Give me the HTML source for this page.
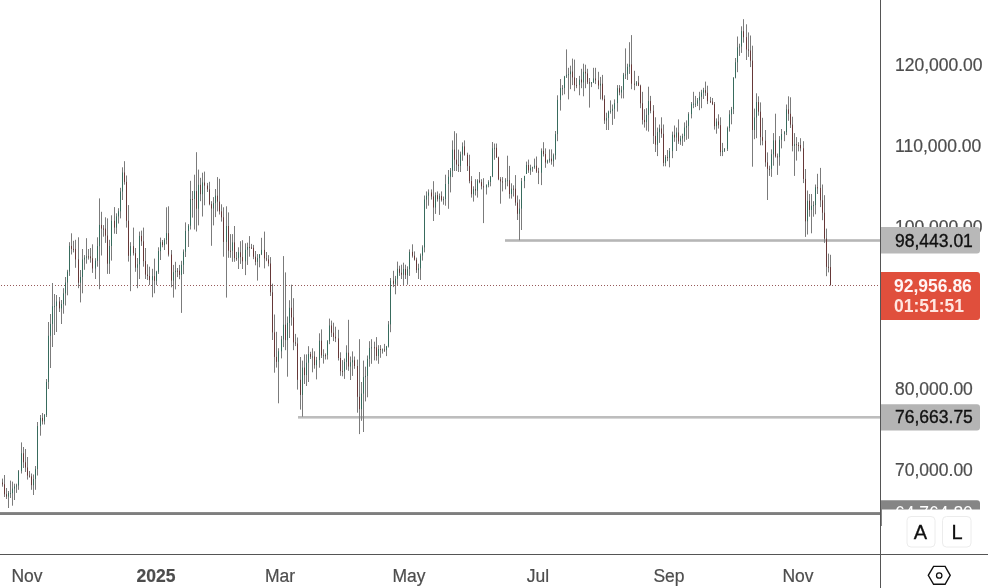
<!DOCTYPE html>
<html><head><meta charset="utf-8"><style>
html,body{margin:0;padding:0;background:#fff;width:988px;height:588px;overflow:hidden;}
svg{position:absolute;left:0;top:0;will-change:transform;}
.t{font-family:"Liberation Sans",sans-serif;}
</style></head><body>
<svg width="988" height="588" viewBox="0 0 988 588">
<rect width="988" height="588" fill="#fff"/>
<!-- horizontal drawn lines -->
<rect x="505" y="239.2" width="376" height="2.6" fill="#b6b6b6"/>
<rect x="298" y="416" width="583" height="2.6" fill="#bdbdbd"/>
<rect x="0" y="512.1" width="881" height="2.9" fill="#7e7e7e"/>
<!-- last price dotted line -->
<line x1="1" y1="285.5" x2="880" y2="285.5" stroke="#965a5a" stroke-width="1" stroke-dasharray="1 2"/>
<!-- candles -->
<g><path d="M2.5 478.6V486.7M4.5 475.0V497.0M6.5 488.0V499.0M8.5 491.0V508.0M10.5 480.6V498.0M12.5 481.6V505.7M14.5 483.7V500.0M16.5 483.7V492.9M18.5 470.0V489.8M21.5 442.4V473.5M23.5 447.0V468.0M25.5 449.0V472.0M27.5 457.0V479.6M29.5 471.0V477.6M31.5 473.5V489.8M33.5 474.5V495.0M35.5 466.0V489.8M37.5 422.0V475.5M40.5 415.0V435.7M42.5 413.0V424.5M44.5 414.0V424.5M46.5 379.0V417.0M48.5 322.0V389.0M50.5 314.0V368.0M52.5 283.0V347.0M54.5 294.0V335.0M56.5 295.0V332.0M59.5 297.0V312.0M61.5 300.0V324.0M63.5 288.2V313.7M65.5 277.0V305.5M67.5 269.8V295.3M69.5 242.2V275.9M71.5 233.3V254.5M73.5 240.8V252.4M75.5 239.8V267.8M78.5 237.3V288.2M80.5 270.0V302.4M82.5 249.0V293.3M84.5 255.1V269.8M86.5 238.2V263.7M88.5 249.0V259.6M90.5 248.0V262.7M92.5 244.3V272.9M95.5 258.2V279.0M97.5 237.3V266.7M99.5 198.4V289.2M101.5 211.8V255.5M103.5 225.1V236.7M105.5 217.3V242.9M107.5 218.4V273.9M109.5 239.8V273.9M111.5 215.3V260.6M114.5 207.1V233.7M116.5 213.3V234.0M118.5 208.2V223.5M120.5 187.8V218.4M122.5 167.3V200.0M124.5 161.2V184.7M126.5 175.5V227.6M128.5 205.1V261.6M130.5 242.2V291.2M133.5 227.6V255.5M135.5 248.0V271.8M137.5 258.0V288.2M139.5 231.6V279.0M141.5 230.6V245.9M143.5 227.6V266.7M145.5 248.0V279.0M147.5 264.3V280.0M149.5 266.7V285.1M152.5 268.8V297.3M154.5 258.6V293.3M156.5 270.8V285.1M158.5 247.3V273.9M160.5 237.6V260.0M162.5 240.0V247.3M164.5 238.2V250.0M166.5 207.3V244.3M168.5 206.3V256.5M171.5 250.0V287.3M173.5 264.9V297.6M175.5 261.8V289.4M177.5 268.0V277.1M179.5 264.9V279.2M181.5 260.8V312.9M183.5 249.4V274.1M185.5 222.4V257.0M188.5 224.1V247.0M190.5 180.8V229.5M192.5 191.0V217.6M194.5 174.7V229.5M196.5 152.2V231.5M198.5 169.6V225.4M200.5 177.8V201.2M202.5 172.7V216.5M204.5 171.6V205.3M207.5 182.9V192.0M209.5 181.8V205.3M211.5 201.2V245.8M213.5 197.1V225.4M215.5 189.0V217.1M217.5 177.1V211.4M219.5 178.8V214.5M221.5 204.3V221.6M223.5 207.3V256.7M226.5 206.3V297.6M228.5 212.4V257.8M230.5 234.1V257.8M232.5 234.1V261.8M234.5 226.0V261.8M236.5 251.9V260.8M238.5 247.3V269.0M240.5 241.2V263.9M242.5 240.2V269.0M245.5 243.3V275.1M247.5 242.7V264.9M249.5 236.1V256.7M251.5 243.9V249.0M253.5 244.9V259.2M255.5 251.0V265.3M257.5 254.1V280.6M259.5 254.1V267.3M261.5 237.8V255.1M264.5 231.6V268.4M266.5 252.0V261.2M268.5 255.1V266.3M270.5 257.1V296.0M272.5 283.7V340.0M274.5 314.5V372.7M276.5 331.8V367.6M278.5 348.2V403.3M281.5 335.9V358.4M283.5 256.1V347.1M285.5 272.4V350.2M287.5 316.5V376.7M289.5 300.2V338.0M291.5 284.7V325.7M293.5 298.2V350.2M295.5 333.9V346.1M297.5 337.5V389.6M300.5 357.0V409.6M302.5 360.6V416.7M304.5 354.4V384.0M306.5 354.4V386.0M308.5 346.2V382.0M310.5 351.8V359.0M312.5 348.3V372.3M314.5 351.3V368.7M316.5 356.9V379.4M319.5 333.3V367.7M321.5 329.4V358.0M323.5 349.3V363.6M325.5 353.4V359.5M327.5 340.1V359.5M329.5 318.6V344.2M331.5 320.6V337.0M333.5 322.7V341.1M335.5 326.7V342.1M338.5 329.8V360.5M340.5 352.3V375.8M342.5 360.1V376.3M344.5 358.5V378.9M346.5 345.3V369.8M348.5 319.8V370.8M350.5 356.5V380.0M352.5 351.4V375.9M354.5 356.5V368.8M357.5 359.6V412.7M359.5 339.2V434.1M361.5 382.0V420.8M363.5 360.6V432.0M365.5 366.7V401.4M367.5 355.5V397.3M369.5 341.2V366.7M371.5 339.2V363.8M374.5 341.7V360.4M376.5 337.1V360.6M378.5 345.2V363.8M380.5 345.1V357.8M382.5 348.5V353.6M384.5 343.9V351.9M386.5 345.9V356.1M388.5 321.0V347.5M390.5 278.0V332.2M393.5 270.8V287.1M395.5 275.9V294.3M397.5 261.6V285.1M399.5 265.7V275.9M401.5 264.7V279.0M403.5 262.7V285.1M405.5 264.7V279.0M407.5 266.3V284.7M409.5 249.4V275.9M412.5 244.3V257.6M414.5 251.4V260.6M416.5 257.6V272.9M418.5 263.7V279.0M420.5 253.5V280.0M422.5 245.3V260.6M424.5 195.5V252.4M426.5 191.4V208.8M428.5 189.4V205.7M431.5 189.4V199.6M433.5 181.2V221.0M435.5 192.4V213.9M437.5 191.4V201.6M439.5 193.5V214.9M441.5 191.4V201.6M443.5 196.5V204.7M445.5 174.7V205.7M448.5 170.0V208.8M450.5 168.0V192.4M452.5 140.4V177.1M454.5 131.2V171.0M456.5 133.3V171.0M458.5 149.6V172.0M460.5 151.6V172.0M462.5 142.4V160.8M464.5 140.4V155.7M467.5 152.7V171.0M469.5 154.7V183.3M471.5 176.1V197.6M473.5 186.3V201.6M475.5 179.2V195.5M477.5 179.2V197.6M479.5 172.0V183.3M481.5 179.2V189.4M483.5 178.2V223.1M486.5 184.3V194.5M488.5 180.2V187.3M490.5 176.1V186.3M492.5 142.0V177.1M494.5 143.5V159.8M496.5 143.5V157.8M498.5 156.7V180.2M500.5 177.1V203.7M502.5 177.1V191.4M505.5 178.2V189.4M507.5 155.7V186.3M509.5 165.9V198.6M511.5 183.3V198.6M513.5 185.3V196.5M515.5 175.1V205.7M517.5 195.5V220.0M519.5 199.4V240.2M521.5 178.0V230.0M524.5 175.9V188.2M526.5 161.6V173.9M528.5 159.6V172.9M530.5 164.7V174.9M532.5 166.7V171.8M534.5 158.6V168.8M536.5 156.5V172.9M538.5 167.8V184.1M541.5 148.4V185.1M543.5 142.2V156.5M545.5 148.4V167.8M547.5 159.6V163.7M549.5 149.4V162.7M551.5 149.4V164.7M553.5 153.5V166.7M555.5 131.0V159.6M557.5 95.3V141.2M560.5 79.0V110.6M562.5 85.1V95.3M564.5 75.9V94.3M566.5 49.4V78.0M568.5 67.8V99.4M570.5 65.7V89.2M572.5 58.6V85.1M574.5 59.6V91.2M576.5 78.0V88.2M579.5 75.9V95.3M581.5 68.8V88.2M583.5 63.7V96.3M585.5 64.7V88.2M587.5 68.8V84.1M589.5 78.0V107.6M591.5 82.0V87.1M593.5 67.8V83.1M595.5 67.8V84.1M598.5 71.8V89.2M600.5 76.9V99.4M602.5 74.9V100.4M604.5 95.3V123.9M606.5 112.7V130.0M608.5 110.6V130.0M610.5 100.4V113.7M612.5 104.5V124.9M614.5 99.4V118.8M617.5 85.1V111.6M619.5 85.1V95.3M621.5 86.1V98.4M623.5 72.9V98.4M625.5 48.4V79.0M627.5 63.7V80.0M629.5 42.2V73.9M631.5 35.1V89.2M634.5 70.8V90.2M636.5 81.0V86.1M638.5 75.9V86.1M640.5 84.7V108.2M642.5 91.8V124.5M644.5 109.2V127.6M646.5 108.2V130.6M648.5 86.7V131.6M650.5 95.9V113.3M653.5 105.1V143.9M655.5 117.3V152.0M657.5 127.6V156.1M659.5 124.5V142.9M661.5 117.3V137.8M663.5 124.5V166.3M665.5 155.1V166.3M667.5 150.0V161.2M669.5 148.0V167.3M672.5 131.6V158.2M674.5 125.5V141.8M676.5 127.6V151.0M678.5 119.4V143.9M680.5 135.7V144.9M682.5 133.7V145.9M684.5 122.4V141.8M686.5 120.4V139.8M688.5 112.2V138.8M691.5 102.0V118.4M693.5 91.8V108.2M695.5 95.9V107.1M697.5 98.0V106.1M699.5 91.8V110.2M701.5 89.8V108.2M703.5 87.8V99.0M705.5 81.6V95.9M707.5 85.7V104.1M710.5 96.9V103.1M712.5 98.0V105.1M714.5 102.0V129.6M716.5 118.4V133.7M718.5 114.3V128.6M720.5 117.3V156.1M722.5 142.9V156.1M724.5 148.0V152.0M727.5 126.5V151.0M729.5 110.2V131.6M731.5 106.9V124.3M733.5 77.3V114.1M735.5 58.0V78.4M737.5 36.5V72.2M739.5 43.7V55.9M741.5 26.3V52.9M743.5 19.2V42.7M746.5 24.3V60.0M748.5 32.4V56.9M750.5 35.5V67.1M752.5 45.7V166.7M754.5 108.6V139.2M756.5 93.3V138.2M758.5 96.3V115.7M760.5 102.4V145.3M762.5 117.8V145.3M765.5 130.0V166.7M767.5 152.4V200.0M769.5 165.7V175.9M771.5 149.4V176.9M773.5 133.1V165.7M775.5 113.7V157.6M777.5 153.5V174.9M779.5 136.1V165.7M781.5 129.0V148.4M784.5 131.0V141.2M786.5 104.5V135.1M788.5 96.3V120.8M790.5 97.3V128.0M792.5 116.7V151.4M794.5 133.1V175.9M796.5 137.1V160.6M798.5 142.2V151.4M800.5 138.2V151.4M803.5 141.2V183.1M805.5 169.0V236.9M807.5 190.5V234.5M809.5 194.0V216.7M811.5 194.0V233.3M813.5 201.2V216.7M815.5 184.5V214.3M817.5 173.8V194.0M820.5 167.9V207.1M822.5 184.5V220.2M824.5 195.2V242.9M826.5 228.6V276.2M828.5 253.6V272.4M830.5 254.8V285.3" stroke="#7b7b7b" stroke-width="1" fill="none"/><path d="M8.5 493.1V496.6M10.5 493.1V494.1M12.5 488.6V493.1M14.5 486.5V488.6M16.5 485.5V486.5M18.5 471.1V485.5M21.5 453.3V471.1M33.5 479.1V485.2M35.5 468.9V479.1M37.5 426.1V468.9M40.5 417.9V426.1M44.5 414.9V421.4M46.5 382.0V414.9M48.5 335.8V382.0M50.5 323.9V335.8M52.5 306.3V323.9M54.5 306.1V307.1M56.5 301.5V306.1M61.5 304.1V308.4M63.5 293.4V304.1M65.5 282.5V293.4M67.5 271.6V282.5M69.5 245.9V271.6M80.5 277.0V282.7M82.5 259.5V277.0M84.5 257.7V259.5M86.5 256.4V257.7M95.5 260.8V268.5M97.5 246.1V260.8M99.5 224.9V246.1M109.5 246.0V263.7M111.5 220.8V246.0M116.5 216.4V227.6M118.5 211.3V216.4M120.5 191.5V211.3M122.5 172.5V191.5M130.5 246.2V255.8M137.5 264.3V267.7M139.5 235.9V264.3M152.5 276.2V280.2M156.5 271.7V280.8M158.5 251.1V271.7M160.5 242.2V251.1M164.5 240.0V245.1M166.5 233.2V240.0M173.5 272.2V280.6M175.5 270.7V272.2M181.5 264.8V274.9M183.5 251.7V264.8M185.5 231.0V251.7M188.5 225.7V231.0M190.5 199.0V225.7M194.5 191.1V199.0M198.5 184.8V208.7M202.5 182.5V194.2M213.5 203.1V208.5M215.5 195.7V203.1M226.5 226.0V241.9M232.5 242.4V250.7M238.5 252.3V258.1M245.5 249.8V261.3M247.5 246.9V249.8M257.5 258.1V261.9M259.5 254.4V258.1M261.5 249.9V254.4M278.5 351.3V361.8M281.5 339.3V351.3M283.5 324.7V339.3M287.5 322.9V340.1M289.5 307.8V322.9M302.5 367.6V394.9M306.5 362.7V375.1M308.5 354.0V362.7M312.5 356.5V357.5M316.5 360.1V365.2M319.5 340.7V360.1M323.5 355.2V356.2M327.5 341.3V355.2M329.5 325.5V341.3M344.5 361.9V371.4M346.5 352.7V361.9M350.5 362.3V366.5M352.5 360.2V362.3M361.5 393.6V409.2M363.5 377.1V393.6M365.5 375.9V377.1M367.5 358.9V375.9M369.5 348.0V358.9M371.5 347.3V348.3M378.5 349.0V356.0M382.5 349.5V350.5M386.5 346.4V350.1M388.5 324.4V346.4M390.5 280.7V324.4M395.5 278.7V283.7M397.5 268.8V278.7M403.5 269.0V274.7M407.5 269.2V275.2M409.5 251.9V269.2M418.5 268.3V270.1M420.5 255.6V268.3M422.5 247.4V255.6M424.5 199.5V247.4M426.5 195.7V199.5M428.5 192.5V195.7M435.5 195.2V207.5M439.5 195.9V199.2M443.5 199.0V200.1M445.5 184.0V199.0M448.5 176.7V184.0M450.5 170.7V176.7M452.5 149.6V170.7M460.5 154.4V165.9M462.5 146.4V154.4M473.5 189.1V194.2M477.5 180.4V190.6M486.5 185.2V187.4M488.5 182.0V185.2M490.5 176.4V182.0M492.5 148.4V176.4M494.5 147.8V148.8M505.5 180.6V181.6M507.5 180.2V181.2M511.5 188.7V194.0M519.5 208.6V213.8M521.5 181.1V208.6M524.5 175.9V181.1M526.5 165.0V173.9M530.5 168.2V170.4M532.5 167.3V168.3M534.5 165.7V167.3M541.5 150.8V172.7M547.5 160.5V162.5M549.5 158.7V160.5M553.5 155.3V161.3M555.5 134.1V155.3M557.5 99.9V134.1M560.5 88.2V99.9M562.5 87.9V88.9M564.5 76.5V87.9M566.5 74.9V76.5M568.5 74.2V75.2M570.5 71.5V74.2M579.5 79.6V85.1M583.5 71.8V82.4M591.5 82.3V83.5M593.5 78.5V82.3M600.5 83.7V85.5M606.5 117.9V120.5M608.5 111.5V117.9M610.5 110.9V111.9M612.5 108.8V110.9M614.5 103.1V108.8M617.5 88.2V103.1M621.5 89.8V92.5M623.5 74.7V89.8M625.5 74.4V75.4M627.5 66.8V74.4M629.5 64.4V66.8M636.5 82.5V84.6M646.5 114.9V122.1M648.5 101.1V114.9M657.5 132.2V144.7M659.5 128.5V132.2M665.5 156.9V162.9M669.5 151.1V157.8M672.5 134.7V151.1M676.5 132.5V137.5M680.5 138.5V141.4M682.5 136.1V138.5M684.5 127.6V136.1M686.5 125.9V127.6M688.5 114.1V125.9M691.5 103.9V114.1M693.5 103.7V104.7M695.5 103.7V104.7M697.5 100.4V103.7M699.5 96.7V100.4M701.5 92.6V96.7M703.5 90.2V92.6M716.5 121.5V126.2M722.5 150.8V152.1M724.5 148.9V150.8M727.5 128.0V148.9M729.5 114.4V128.0M731.5 109.1V114.4M733.5 77.6V109.1M735.5 62.3V77.6M737.5 47.4V62.3M739.5 46.5V47.5M741.5 31.2V46.5M754.5 117.5V130.0M756.5 102.1V117.5M771.5 154.3V168.8M773.5 140.4V154.3M779.5 139.8V157.2M781.5 134.1V139.8M784.5 132.2V134.1M786.5 109.4V132.2M794.5 144.2V145.9M807.5 200.8V221.3M811.5 205.8V209.9M813.5 205.1V206.1M815.5 187.3V205.1" stroke="#386b5d" stroke-width="1" fill="none"/><path d="M2.5 482.6V484.3M4.5 484.3V494.3M6.5 494.3V496.6M23.5 453.3V462.3M25.5 462.3V467.5M27.5 467.5V475.6M29.5 475.6V476.6M31.5 476.4V485.2M42.5 417.9V421.4M59.5 301.5V308.4M71.5 245.9V248.9M73.5 248.9V249.9M75.5 248.9V259.4M78.5 259.4V282.7M88.5 256.4V257.4M90.5 256.4V258.3M92.5 258.3V268.5M101.5 224.9V228.6M103.5 228.6V229.6M105.5 228.6V235.6M107.5 235.6V263.7M114.5 220.8V227.6M124.5 172.5V181.9M126.5 181.9V220.8M128.5 220.8V255.8M133.5 246.2V253.2M135.5 253.2V267.7M141.5 235.9V241.3M143.5 241.3V261.1M145.5 261.1V274.6M147.5 274.6V276.0M149.5 276.0V280.2M154.5 276.2V280.8M162.5 242.2V245.1M168.5 233.2V254.6M171.5 254.6V280.6M177.5 270.7V271.7M179.5 270.7V274.9M192.5 199.0V200.0M196.5 191.1V208.7M200.5 184.8V194.2M204.5 182.5V185.6M207.5 185.6V189.3M209.5 189.3V204.1M211.5 204.1V208.5M217.5 195.7V201.6M219.5 201.6V211.4M221.5 211.4V217.3M223.5 217.3V241.9M228.5 226.0V250.7M230.5 250.7V251.7M234.5 242.4V258.1M236.5 258.1V259.1M240.5 252.3V257.1M242.5 257.1V261.3M249.5 246.9V247.9M251.5 247.5V248.5M253.5 247.8V256.7M255.5 256.7V261.9M264.5 249.9V258.4M266.5 258.4V259.4M268.5 259.4V263.5M270.5 263.5V292.3M272.5 292.3V332.4M274.5 332.4V356.9M276.5 356.9V361.8M285.5 324.7V340.1M291.5 307.8V317.4M293.5 317.4V342.4M295.5 342.4V343.5M297.5 343.5V379.8M300.5 379.8V394.9M304.5 367.6V375.1M310.5 354.0V356.8M314.5 356.5V365.2M321.5 340.7V355.4M325.5 355.2V356.2M331.5 325.5V332.7M333.5 332.7V336.8M335.5 336.8V338.4M338.5 338.4V358.0M340.5 358.0V371.1M342.5 371.1V372.1M348.5 352.7V366.5M354.5 360.2V366.0M357.5 366.0V396.8M359.5 396.8V409.2M374.5 347.3V348.3M376.5 347.3V356.0M380.5 349.0V350.0M384.5 349.5V350.5M393.5 280.7V283.7M399.5 268.8V272.8M401.5 272.8V274.7M405.5 269.0V275.2M412.5 251.9V255.7M414.5 255.7V259.7M416.5 259.7V270.1M431.5 192.5V196.5M433.5 196.5V207.5M437.5 195.2V199.2M441.5 195.9V200.1M454.5 149.6V159.7M456.5 159.7V164.6M458.5 164.6V165.9M464.5 146.4V154.8M467.5 154.8V166.1M469.5 166.1V181.1M471.5 181.1V194.2M475.5 189.1V190.6M479.5 180.4V182.1M481.5 182.1V186.3M483.5 186.3V187.4M496.5 147.8V157.5M498.5 157.5V179.3M500.5 179.3V181.4M502.5 181.4V182.4M509.5 180.2V194.0M513.5 188.7V189.7M515.5 188.7V202.6M517.5 202.6V213.8M528.5 165.0V170.4M536.5 165.7V171.4M538.5 171.4V172.7M543.5 150.8V154.1M545.5 154.1V162.5M551.5 158.7V161.3M572.5 71.5V77.4M574.5 77.4V85.1M576.5 85.1V86.1M581.5 79.6V82.4M585.5 71.8V73.4M587.5 73.4V82.3M589.5 82.3V83.5M595.5 78.5V80.4M598.5 80.4V85.5M602.5 83.7V98.9M604.5 98.9V120.5M619.5 88.2V92.5M631.5 64.4V83.7M634.5 83.7V84.7M638.5 82.5V85.7M640.5 85.7V103.3M642.5 103.3V119.9M644.5 119.9V122.1M650.5 101.1V110.8M653.5 110.8V135.9M655.5 135.9V144.7M661.5 128.5V133.8M663.5 133.8V162.9M667.5 156.9V157.9M674.5 134.7V137.5M678.5 132.5V141.4M705.5 90.2V92.8M707.5 92.8V101.2M710.5 101.2V102.2M712.5 101.6V104.2M714.5 104.2V126.2M718.5 121.5V125.2M720.5 125.2V152.1M743.5 31.2V37.2M746.5 37.2V49.5M748.5 49.5V50.5M750.5 50.5V60.7M752.5 60.7V130.0M758.5 102.1V111.7M760.5 111.7V137.1M762.5 137.1V140.7M765.5 140.7V162.4M767.5 162.4V168.8M769.5 168.8V169.8M775.5 140.4V156.4M777.5 156.4V157.4M788.5 109.4V113.8M790.5 113.8V124.6M792.5 124.6V145.9M796.5 144.2V145.2M798.5 145.0V146.0M800.5 145.0V148.3M803.5 148.3V178.9M805.5 178.9V221.3M809.5 200.8V209.9M817.5 187.3V188.3M820.5 187.9V200.3M822.5 200.3V212.7M824.5 212.7V238.6M826.5 238.6V266.8M828.5 266.8V267.8M830.5 267.1V285.3" stroke="#663838" stroke-width="1" fill="none"/></g>
<!-- axes -->
<rect x="880" y="0" width="1" height="588" fill="#555"/>
<rect x="0" y="554" width="988" height="1" fill="#555"/>
<!-- price labels -->
<g class="t" font-size="17.5" fill="#4d4d4d" stroke="#4d4d4d" stroke-width="0.2">
<text x="895" y="71">120,000.00</text>
<text x="895" y="152">110,000.00</text>
<text x="895" y="233">100,000.00</text>
<text x="895" y="395">80,000.00</text>
<text x="895" y="476">70,000.00</text>
</g>
<!-- boxes -->
<path d="M881 227H977a3 3 0 0 1 3 3V250.5a3 3 0 0 1 -3 3H881Z" fill="#b8b8b8"/>
<text class="t" x="895" y="246.5" font-size="17.5" fill="#111" stroke="#111" stroke-width="0.35">98,443.01</text>
<path d="M881 404.3H977a3 3 0 0 1 3 3V427.5a3 3 0 0 1 -3 3H881Z" fill="#b4b4b4"/>
<text class="t" x="895" y="423" font-size="17.5" fill="#111" stroke="#111" stroke-width="0.35">76,663.75</text>
<path d="M881 500.3H977a3 3 0 0 1 3 3V526H881Z" fill="#858585"/>
<text class="t" x="895" y="519" font-size="17.5" fill="#fff">64,764.80</text>
<rect x="882" y="509.5" width="106" height="44.5" fill="#fff"/>
<path d="M881 272H977a3 3 0 0 1 3 3V317a3 3 0 0 1 -3 3H881Z" fill="#e04f3c"/>
<text class="t" x="894" y="291.5" font-size="17.5" font-weight="bold" fill="#fff4f4">92,956.86</text>
<text class="t" x="894" y="312" font-size="17.5" font-weight="bold" fill="#ffe6e0">01:51:51</text>
<!-- A L buttons -->
<rect x="907" y="516.5" width="28" height="30.5" rx="4" fill="#fff" stroke="#ececec" stroke-width="1"/>
<rect x="942.5" y="516.5" width="28.5" height="30.5" rx="4" fill="#fff" stroke="#ececec" stroke-width="1"/>
<text class="t" x="920.5" y="538.7" font-size="20" fill="#111" stroke="#111" stroke-width="0.3" text-anchor="middle">A</text>
<text class="t" x="957" y="538.7" font-size="20" fill="#111" stroke="#111" stroke-width="0.3" text-anchor="middle">L</text>
<!-- time labels -->
<g class="t" font-size="17.5" fill="#4d4d4d" stroke="#4d4d4d" stroke-width="0.2">
<text x="27" y="582" text-anchor="middle">Nov</text>
<text x="156" y="582" text-anchor="middle" font-weight="bold">2025</text>
<text x="280" y="582" text-anchor="middle">Mar</text>
<text x="409" y="582" text-anchor="middle">May</text>
<text x="538" y="582" text-anchor="middle">Jul</text>
<text x="669" y="582" text-anchor="middle">Sep</text>
<text x="798" y="582" text-anchor="middle">Nov</text>
</g>
<!-- settings hexagon -->
<path d="M933.6 566.4H945.1L950.2 575.3L945.1 584.3H933.6L928.3 575.3Z" fill="none" stroke="#111" stroke-width="1.4" stroke-linejoin="miter"/>
<circle cx="939.2" cy="575.5" r="2.7" fill="none" stroke="#111" stroke-width="1.3"/>
</svg>
</body></html>
